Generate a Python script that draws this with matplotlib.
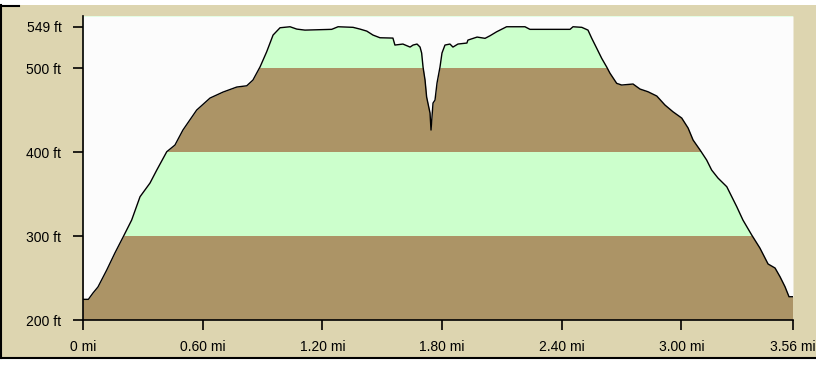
import matplotlib
matplotlib.use("Agg")
import matplotlib.pyplot as plt
from matplotlib.patches import Rectangle
from matplotlib.lines import Line2D

plt.rcParams['font.family'] = ['Liberation Sans', 'DejaVu Sans']

# Elevation profile (distance in miles, elevation in feet)
dist_mi = [0.000, 0.027, 0.050, 0.075, 0.119, 0.160, 0.202, 0.244, 0.286, 0.336,
           0.370, 0.420, 0.461, 0.501, 0.570, 0.637, 0.702, 0.771, 0.821, 0.852,
           0.888, 0.921, 0.953, 0.988, 1.038, 1.072, 1.113, 1.247, 1.279, 1.354,
           1.389, 1.423, 1.454, 1.489, 1.554, 1.564, 1.604, 1.640, 1.655, 1.675,
           1.690, 1.698, 1.705, 1.715, 1.723, 1.740, 1.745, 1.755, 1.765, 1.775,
           1.790, 1.800, 1.815, 1.840, 1.855, 1.880, 1.925, 1.930, 1.976, 2.016,
           2.041, 2.074, 2.124, 2.216, 2.241, 2.442, 2.457, 2.501, 2.532, 2.551,
           2.576, 2.601, 2.626, 2.642, 2.676, 2.701, 2.758, 2.793, 2.833, 2.877,
           2.918, 2.958, 3.002, 3.034, 3.059, 3.094, 3.127, 3.152, 3.184, 3.228,
           3.278, 3.309, 3.353, 3.394, 3.435, 3.470, 3.495, 3.520, 3.540, 3.560]
elev_ft = [224.6, 224.6, 232.1, 239.3, 259.5, 279.8, 299.2, 319.0, 346.8, 363.1,
           378.6, 400.4, 408.3, 426.2, 450.0, 464.3, 471.4, 477.4, 478.9, 485.7,
           501.5, 519.4, 539.3, 548.0, 549.2, 546.4, 545.2, 546.1, 549.2, 548.5,
           546.4, 544.0, 539.3, 536.1, 535.7, 527.4, 528.6, 525.0, 527.4, 528.6,
           525.0, 517.9, 501.2, 485.7, 465.5, 446.4, 426.2, 458.3, 461.9, 482.1,
           501.2, 517.9, 527.4, 528.6, 525.0, 528.6, 529.8, 533.3, 536.9, 535.4,
           538.5, 543.2, 549.2, 549.2, 546.1, 546.1, 549.2, 548.5, 545.2, 535.4,
           523.5, 511.5, 501.2, 494.0, 481.8, 479.8, 481.0, 475.0, 471.8, 466.7,
           456.0, 448.0, 440.5, 428.6, 414.3, 402.4, 390.5, 378.6, 369.0, 358.7,
           334.9, 319.0, 301.2, 285.7, 266.7, 261.9, 251.5, 239.6, 227.7, 227.7]

x_ticks = [0, 0.60, 1.20, 1.80, 2.40, 3.00, 3.56]
x_labels = ['0 mi', '0.60 mi', '1.20 mi', '1.80 mi', '2.40 mi', '3.00 mi', '3.56 mi']
y_ticks = [200, 300, 400, 500, 549]
y_labels = ['200 ft', '300 ft', '400 ft', '500 ft', '549 ft']

# elevation bands (bottom, top, colour)
band_edges = [200, 300, 400, 500, 562]
band_colors = ['#ac9466', '#ccffcc', '#ac9466', '#ccffcc']

tan = '#ddd5b0'
plot_bg = '#fcfcfc'

W, H = 816, 372
fig = plt.figure(figsize=(W / 100, H / 100), dpi=100)
fig.patch.set_facecolor('white')

# window-like tan frame behind the axes
frame = Rectangle((0, (H - 358) / H), 1, (358 - 5) / H,
                  transform=fig.transFigure, facecolor=tan,
                  edgecolor='none', zorder=-5)
fig.add_artist(frame)
fig.add_artist(Line2D([0.5 / W, 0.5 / W], [(H - 358) / H, (H - 5) / H],
                      transform=fig.transFigure, color='black', lw=1.5, zorder=-4))
fig.add_artist(Line2D([0, 1], [(H - 357.5) / H, (H - 357.5) / H],
                      transform=fig.transFigure, color='black', lw=1.5, zorder=-4))
fig.add_artist(Line2D([0, 19 / W], [(H - 5.5) / H, (H - 5.5) / H],
                      transform=fig.transFigure, color='black', lw=1.5, zorder=-4))

ax = fig.add_axes([83 / W, (H - 320) / H, (793 - 83) / W, (320 - 16) / H])
ax.set_facecolor(plot_bg)
ax.set_xlim(0, 3.56)
ax.set_ylim(200, 562)

for lo, hi, c in zip(band_edges[:-1], band_edges[1:], band_colors):
    ax.axhspan(lo, hi, color=c, lw=0, zorder=1)
ax.fill_between(dist_mi, elev_ft, 562, color=plot_bg, lw=0, zorder=2)
ax.plot(dist_mi, elev_ft, color='black', lw=1.0, zorder=3)

for s in ['top', 'right']:
    ax.spines[s].set_visible(False)
for s in ['left', 'bottom']:
    ax.spines[s].set_linewidth(1.2)
    ax.spines[s].set_zorder(4)

ax.set_xticks(x_ticks)
ax.set_xticklabels(x_labels)
ax.set_yticks(y_ticks)
ax.set_yticklabels(y_labels)
ax.tick_params(axis='both', direction='out', length=7.5, width=1.2,
               labelsize=10, colors='black')
ax.tick_params(axis='y', pad=8)
ax.tick_params(axis='x', pad=7)

fig.savefig('out.png', dpi=100, facecolor=fig.get_facecolor())
